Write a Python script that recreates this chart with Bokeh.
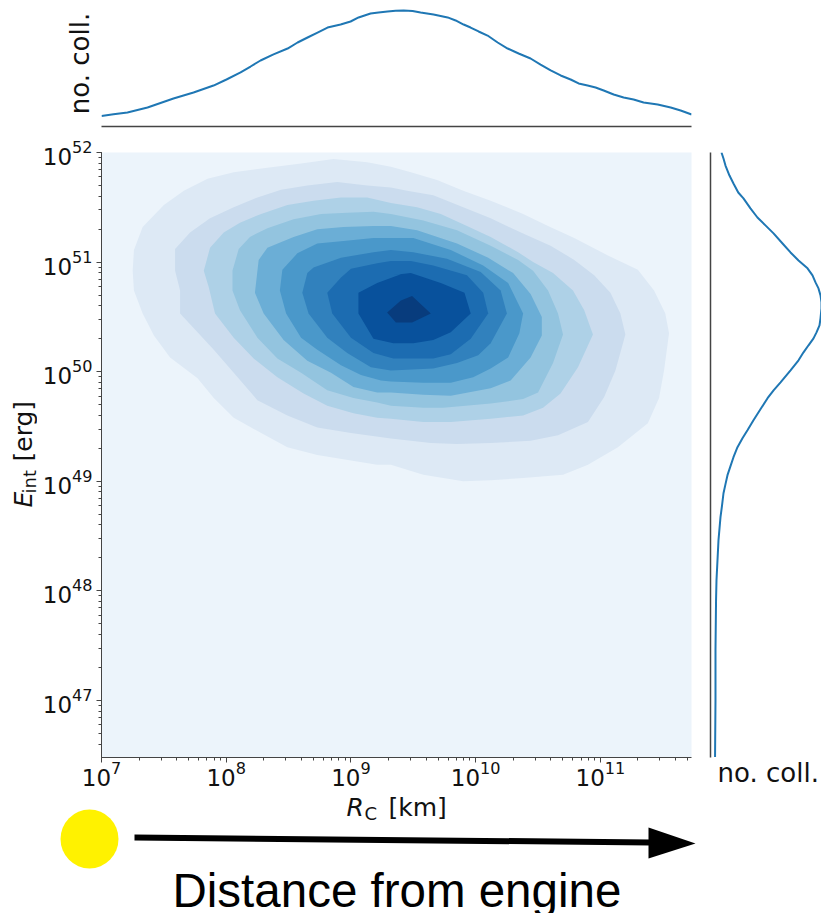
from bokeh.core.properties import value
from bokeh.embed import file_html
from bokeh.layouts import column, row
from bokeh.models import FixedTicker, LogTicker, Range1d
from bokeh.plotting import figure
from bokeh.resources import INLINE

# Marginal KDE over log10(R_C)
top_log_r = [7.000, 7.096, 7.208, 7.369, 7.473, 7.577, 7.738, 7.898, 8.002, 8.115, 8.195, 8.275, 8.379, 8.492,
             8.572, 8.652, 8.732, 8.812, 8.917, 8.997, 9.061, 9.157, 9.221, 9.293, 9.358, 9.422, 9.494, 9.558,
             9.662, 9.775, 9.839, 9.903, 9.959, 10.023, 10.095, 10.176, 10.256, 10.344, 10.440, 10.520, 10.601,
             10.681, 10.761, 10.825, 10.897, 10.961, 11.026, 11.106, 11.186, 11.266, 11.346, 11.459, 11.563,
             11.643, 11.731]
top_density = [0.091, 0.105, 0.121, 0.164, 0.203, 0.241, 0.293, 0.353, 0.405, 0.466, 0.517, 0.569, 0.621, 0.672,
               0.724, 0.767, 0.810, 0.853, 0.879, 0.905, 0.940, 0.974, 0.983, 0.991, 0.998, 1.000, 0.996, 0.983,
               0.966, 0.940, 0.914, 0.879, 0.853, 0.819, 0.784, 0.724, 0.672, 0.629, 0.586, 0.534, 0.483,
               0.440, 0.405, 0.371, 0.353, 0.336, 0.310, 0.276, 0.250, 0.233, 0.207, 0.190, 0.164,
               0.138, 0.103]

# Marginal KDE over log10(E_int)
right_log_e = [52.000, 51.945, 51.881, 51.790, 51.717, 51.635, 51.581, 51.490, 51.407, 51.335, 51.262, 51.170,
               51.088, 51.015, 50.943, 50.879, 50.815, 50.760, 50.696, 50.633, 50.578, 50.487, 50.423, 50.359,
               50.304, 50.241, 50.177, 50.104, 50.013, 49.903, 49.830, 49.758, 49.657, 49.557, 49.466, 49.393,
               49.311, 49.220, 49.138, 49.056, 48.974, 48.891, 48.780, 48.673, 48.463, 48.281, 48.098, 47.916, 47.460,
               47.005, 46.485]
right_density = [0.099, 0.117, 0.135, 0.171, 0.207, 0.250, 0.297, 0.360, 0.423, 0.495, 0.568, 0.649,
                 0.721, 0.793, 0.874, 0.919, 0.946, 0.973, 0.991, 1.000, 1.000, 0.991, 0.982, 0.955,
                 0.928, 0.883, 0.838, 0.793, 0.721, 0.631, 0.568, 0.514, 0.450, 0.387, 0.333, 0.288,
                 0.243, 0.207, 0.180, 0.153, 0.135, 0.117, 0.104, 0.090, 0.072, 0.063, 0.054, 0.050, 0.045,
                 0.045, 0.041]

# Filled contour bands, outermost first: log10(R_C), log10(E_int)
level1_r = [8.86, 8.60, 8.33, 8.06, 7.85, 7.66, 7.50, 7.33, 7.26, 7.25, 7.26, 7.33, 7.42, 7.55, 7.77, 7.90, 8.06, 8.28, 8.49, 8.73, 9.00, 9.21, 9.32, 9.58, 9.90, 10.12, 10.38, 10.70, 10.90, 11.14, 11.38, 11.47, 11.51, 11.55, 11.52, 11.43, 11.30, 11.06, 10.79, 10.58, 10.38, 10.12, 9.90, 9.69, 9.48, 9.32, 9.13]
level1_e = [51.94, 51.90, 51.86, 51.82, 51.76, 51.65, 51.52, 51.32, 51.11, 50.92, 50.74, 50.53, 50.33, 50.13, 49.94, 49.76, 49.58, 49.44, 49.31, 49.24, 49.19, 49.15, 49.15, 49.06, 49.00, 49.01, 49.03, 49.06, 49.15, 49.31, 49.53, 49.76, 50.01, 50.35, 50.53, 50.74, 50.93, 51.06, 51.22, 51.33, 51.44, 51.56, 51.65, 51.75, 51.82, 51.87, 51.91]
level2_r = [8.89, 8.65, 8.44, 8.25, 8.06, 7.87, 7.71, 7.59, 7.59, 7.63, 7.63, 7.77, 7.90, 8.06, 8.25, 8.49, 8.73, 9.00, 9.32, 9.64, 9.85, 10.12, 10.44, 10.66, 10.90, 11.03, 11.12, 11.20, 11.16, 11.08, 10.95, 10.79, 10.60, 10.38, 10.12, 9.90, 9.66, 9.45, 9.32, 9.13]
level2_e = [51.73, 51.70, 51.66, 51.59, 51.50, 51.40, 51.27, 51.12, 50.92, 50.74, 50.53, 50.36, 50.20, 49.99, 49.74, 49.60, 49.49, 49.44, 49.39, 49.35, 49.34, 49.35, 49.37, 49.42, 49.54, 49.77, 50.01, 50.34, 50.53, 50.72, 50.88, 51.02, 51.15, 51.26, 51.40, 51.50, 51.61, 51.65, 51.68, 51.70]
level3_r = [8.92, 8.70, 8.49, 8.28, 8.11, 7.98, 7.87, 7.82, 7.86, 7.91, 8.06, 8.22, 8.41, 8.62, 8.81, 9.02, 9.21, 9.32, 9.58, 9.80, 10.12, 10.38, 10.54, 10.68, 10.82, 10.94, 10.87, 10.78, 10.62, 10.46, 10.34, 10.12, 9.93, 9.72, 9.53, 9.32, 9.13]
level3_e = [51.59, 51.56, 51.52, 51.44, 51.36, 51.27, 51.13, 50.92, 50.77, 50.53, 50.31, 50.12, 49.95, 49.80, 49.69, 49.62, 49.58, 49.57, 49.54, 49.54, 49.57, 49.60, 49.67, 49.80, 50.04, 50.34, 50.56, 50.74, 50.90, 51.00, 51.09, 51.23, 51.33, 51.44, 51.50, 51.54, 51.59]
level4_r = [9.18, 8.97, 8.76, 8.54, 8.33, 8.19, 8.10, 8.05, 8.05, 8.11, 8.25, 8.41, 8.60, 8.81, 9.02, 9.21, 9.32, 9.58, 9.74, 10.12, 10.38, 10.50, 10.62, 10.70, 10.66, 10.58, 10.46, 10.34, 10.12, 9.85, 9.58, 9.32]
level4_e = [51.46, 51.45, 51.44, 51.39, 51.31, 51.23, 51.12, 50.92, 50.74, 50.56, 50.31, 50.12, 49.99, 49.83, 49.76, 49.72, 49.69, 49.67, 49.67, 49.71, 49.75, 49.81, 50.08, 50.34, 50.53, 50.74, 50.92, 51.02, 51.15, 51.29, 51.38, 51.44]
level5_r = [9.18, 8.94, 8.73, 8.54, 8.33, 8.26, 8.23, 8.30, 8.46, 8.65, 8.84, 9.02, 9.21, 9.32, 9.58, 9.80, 10.12, 10.28, 10.44, 10.53, 10.53, 10.44, 10.30, 10.10, 9.85, 9.53, 9.32]
level5_e = [51.33, 51.32, 51.30, 51.23, 51.13, 51.02, 50.72, 50.53, 50.29, 50.10, 49.99, 49.86, 49.81, 49.81, 49.79, 49.78, 49.85, 49.92, 50.13, 50.33, 50.50, 50.71, 50.90, 51.04, 51.17, 51.29, 51.33]
level6_r = [9.18, 8.92, 8.73, 8.57, 8.45, 8.43, 8.48, 8.60, 8.73, 8.92, 9.08, 9.24, 9.32, 9.58, 9.80, 9.98, 10.12, 10.26, 10.35, 10.38, 10.26, 10.06, 9.80, 9.50]
level6_e = [51.22, 51.19, 51.17, 51.08, 50.93, 50.74, 50.53, 50.31, 50.20, 50.06, 49.97, 49.92, 49.91, 49.90, 49.90, 49.95, 50.03, 50.13, 50.35, 50.53, 50.81, 50.97, 51.11, 51.22]
level7_r = [9.32, 9.18, 8.92, 8.70, 8.65, 8.61, 8.66, 8.81, 8.97, 9.16, 9.32, 9.66, 9.85, 10.02, 10.12, 10.25, 10.20, 10.04, 9.77, 9.50]
level7_e = [51.11, 51.09, 51.04, 50.95, 50.90, 50.72, 50.53, 50.31, 50.17, 50.04, 50.01, 50.03, 50.08, 50.15, 50.26, 50.53, 50.74, 50.91, 51.03, 51.09]
level8_r = [9.32, 9.21, 9.00, 8.92, 8.81, 8.85, 9.00, 9.18, 9.34, 9.66, 9.80, 9.96, 10.10, 10.06, 9.93, 9.66, 9.48]
level8_e = [51.01, 50.99, 50.94, 50.86, 50.72, 50.53, 50.31, 50.17, 50.12, 50.12, 50.16, 50.30, 50.53, 50.72, 50.88, 50.97, 51.01]
level9_r = [9.40, 9.21, 9.06, 9.06, 9.18, 9.34, 9.50, 9.66, 9.80, 9.96, 9.91, 9.72, 9.48, 9.32]
level9_e = [50.89, 50.81, 50.72, 50.53, 50.30, 50.26, 50.26, 50.29, 50.36, 50.53, 50.72, 50.81, 50.90, 50.88]
level10_r = [9.29, 9.40, 9.49, 9.64, 9.49, 9.36]
level10_e = [50.54, 50.65, 50.69, 50.53, 50.45, 50.45]

level_colors = ["#dde9f5", "#cbdcee", "#aed1e7", "#93c4df", "#6baed6",
                "#4a98ca", "#3181bd", "#1c6cb1", "#08519c", "#083c7d"]
levels = [(level1_r, level1_e), (level2_r, level2_e), (level3_r, level3_e), (level4_r, level4_e),
          (level5_r, level5_e), (level6_r, level6_e), (level7_r, level7_e), (level8_r, level8_e),
          (level9_r, level9_e), (level10_r, level10_e)]

R_START, R_END = 1e7, 10 ** 11.73
E_START, E_END = 10 ** 46.48, 1e52
DARK = "#444444"
TEXT = "#111111"
BLUE = "#1f77b4"
FONT = "DejaVu Sans"

x_range = Range1d(R_START, R_END)
y_range = Range1d(E_START, E_END)

# ---- top marginal
top = figure(width=700, height=130, x_axis_type="log", x_range=x_range, y_range=Range1d(0, 1.086),
             min_border_left=101, min_border_right=9, min_border_top=0, min_border_bottom=4,
             frame_align=False, output_backend="svg", toolbar_location=None, outline_line_color=None)
top.grid.visible = False
top.line([10 ** v for v in top_log_r], top_density, line_color=BLUE, line_width=2)
top.xaxis.ticker = FixedTicker(ticks=[])
top.xaxis.axis_line_color = DARK
top.xaxis.axis_line_width = 1.5
top.xaxis.major_label_standoff = 0
top.yaxis.ticker = FixedTicker(ticks=[])
top.yaxis.axis_line_color = None
top.yaxis.major_label_standoff = 0
top.yaxis.axis_label = "no. coll."
top.yaxis.axis_label_text_font = FONT
top.yaxis.axis_label_text_font_size = "26px"
top.yaxis.axis_label_text_font_style = "normal"
top.yaxis.axis_label_text_color = TEXT
top.yaxis.axis_label_standoff = 7

# ---- main joint panel
p = figure(width=663, height=665, x_axis_type="log", y_axis_type="log", x_range=x_range, y_range=y_range,
           min_border_left=64, min_border_right=9, min_border_top=22, min_border_bottom=38,
           frame_align=False, output_backend="svg", toolbar_location=None, outline_line_color=None,
           background_fill_color="#ecf4fb")
p.grid.visible = False
for (rs, es), color in zip(levels, level_colors):
    p.patch([10 ** v for v in rs], [10 ** v for v in es], fill_color=color, line_color=None)

for axis, standoff in ((p.xaxis, -2), (p.yaxis, 4)):
    axis.ticker = LogTicker(mantissas=[1], num_minor_ticks=10)
    axis.axis_line_color = DARK
    axis.major_tick_line_color = DARK
    axis.minor_tick_line_color = DARK
    axis.major_tick_in = 0
    axis.major_tick_out = 5
    axis.minor_tick_in = 0
    axis.minor_tick_out = 3
    axis.major_label_text_font = FONT
    axis.major_label_text_font_size = "23px"
    axis.major_label_text_color = TEXT
    axis.major_label_standoff = standoff


def note(fig, text, x, y, size, angle=0, style="normal", font=FONT, color=TEXT):
    fig.text([x], [y], text=[text], text_font=value(font), text_font_size=value(size),
             text_font_style=style, text_color=color, angle=angle, angle_units="deg",
             text_align="left", text_baseline="alphabetic")


# ---- strip left of the tick labels, holding the y axis title (page pixels)
left = figure(width=37, height=665, x_range=Range1d(0, 37), y_range=Range1d(795, 130),
              x_axis_location=None, y_axis_location=None,
              min_border_left=0, min_border_right=0, min_border_top=0, min_border_bottom=0,
              frame_align=False, output_backend="svg", toolbar_location=None, outline_line_color=None)
left.grid.visible = False
note(left, "E", 23, 507, "25px", angle=90, style="italic")
note(left, "int", 29, 493, "18px", angle=90)
note(left, "[erg]", 23, 461, "25px", angle=90)

# ---- right marginal
right = figure(width=121, height=665, y_axis_type="log", x_range=Range1d(0, 1), y_range=y_range,
               min_border_left=10, min_border_right=0, min_border_top=22, min_border_bottom=38,
               frame_align=False, output_backend="svg", toolbar_location=None, outline_line_color=None)
right.grid.visible = False
right.line(right_density, [10 ** v for v in right_log_e], line_color=BLUE, line_width=2)
right.yaxis.ticker = FixedTicker(ticks=[])
right.yaxis.axis_line_color = DARK
right.yaxis.axis_line_width = 1.5
right.yaxis.major_label_standoff = 0
right.xaxis.ticker = FixedTicker(ticks=[0.52])
right.xaxis.major_label_overrides = {0.52: "no. coll."}
right.xaxis.axis_line_color = None
right.xaxis.major_tick_line_color = None
right.xaxis.minor_tick_line_color = None
right.xaxis.major_label_standoff = -6
right.xaxis.major_label_text_font = FONT
right.xaxis.major_label_text_font_size = "26px"
right.xaxis.major_label_text_color = TEXT

# ---- bottom band: x axis title, engine marker, arrow, caption (page pixels)
bottom = figure(width=821, height=118, x_range=Range1d(0, 821), y_range=Range1d(913, 795),
                x_axis_location=None, y_axis_location=None,
                min_border_left=0, min_border_right=0, min_border_top=0, min_border_bottom=0,
                frame_align=False, output_backend="svg", toolbar_location=None, outline_line_color=None)
bottom.grid.visible = False
note(bottom, "R", 346, 807, "25px", style="italic")
note(bottom, "C", 364, 813, "18px")
note(bottom, "[km]", 388, 807, "25px")
bottom.ellipse(x=[89], y=[838.5], width=[58], height=[59], fill_color="#fff200", line_color=None)
bottom.segment([134], [837], [650], [842], line_color="#000000", line_width=6)
bottom.patch([648, 695, 648], [827, 843, 858], fill_color="#000000", line_color=None)
note(bottom, "Distance from engine", 172, 890, "47.5px", font="Liberation Sans", color="#000000")

page = column(top, row(left, p, right), bottom)
open("out.html", "w").write(file_html(page, INLINE))
